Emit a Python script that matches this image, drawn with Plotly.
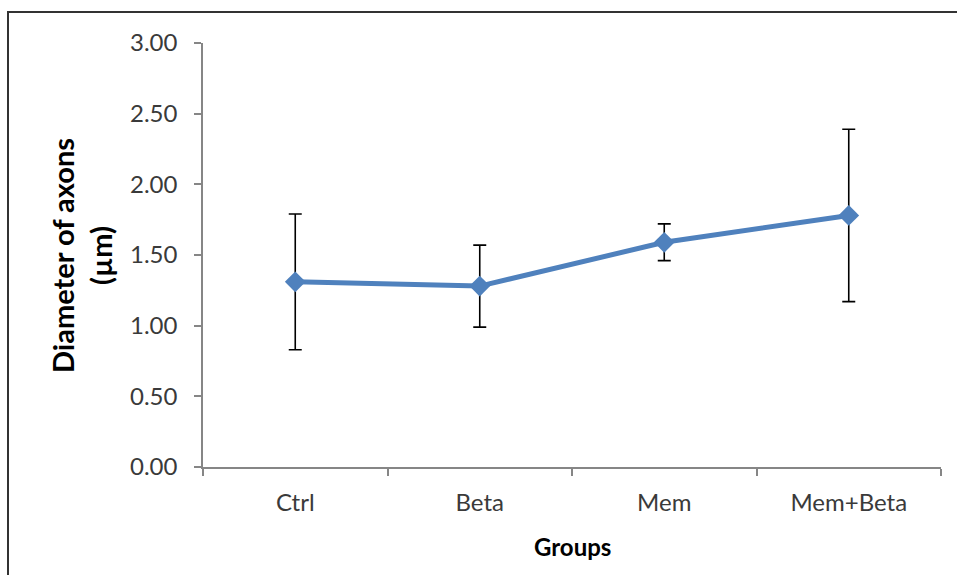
import plotly.graph_objects as go

# Mean axon diameter per group with standard deviation
groups = ["Ctrl", "Beta", "Mem", "Mem+Beta"]
mean_diameter = [1.31, 1.28, 1.59, 1.78]
sd_diameter = [0.48, 0.29, 0.13, 0.61]
y_ticks = [0.0, 0.5, 1.0, 1.5, 2.0, 2.5, 3.0]
y_tick_text = [f"{v:.2f}" for v in y_ticks]

FONT = "Lato"
BLUE = "#4F81BD"
AXIS_GREY = "#868686"
TEXT = "#3a3a3a"

fig = go.Figure()
fig.add_trace(go.Scatter(
    x=groups,
    y=mean_diameter,
    mode="lines+markers",
    line=dict(color=BLUE, width=5),
    marker=dict(symbol="diamond", size=16, color=BLUE),
    error_y=dict(type="data", array=sd_diameter, visible=True,
                 color="#000000", thickness=1.6, width=6.5),
    showlegend=False,
))

L, R, T, B = 203, 16, 43, 108
W, H = 957, 575
pw, ph = W - L - R, H - T - B

fig.update_layout(
    width=W, height=H,
    margin=dict(l=L, r=R, t=T, b=B, pad=0),
    paper_bgcolor="white", plot_bgcolor="white",
    font=dict(family=FONT, color=TEXT, size=24),
    xaxis=dict(
        type="category", range=[-0.5, 3.5],
        showline=True, linecolor=AXIS_GREY, linewidth=1.5,
        ticks="outside", tickson="boundaries", ticklen=7,
        tickcolor=AXIS_GREY, tickwidth=1.5,
        showgrid=False, zeroline=False,
        tickfont=dict(family=FONT, size=24, color=TEXT),
        ticklabelstandoff=13,
    ),
    yaxis=dict(
        range=[0, 3.0], tickvals=y_ticks, ticktext=y_tick_text,
        showline=True, linecolor=AXIS_GREY, linewidth=1.5,
        ticks="outside", ticklen=7, tickcolor=AXIS_GREY, tickwidth=1.5,
        showgrid=False, zeroline=False,
        tickfont=dict(family=FONT, size=24, color=TEXT),
        ticklabelstandoff=12,
    ),
    shapes=[
        # outer chart frame (left and top edges)
        dict(type="path", xref="paper", yref="paper",
             path=f"M {(8 - L) / pw} {-(B + 10) / ph} "
                  f"L {(8 - L) / pw} {1 + (T - 12) / ph} "
                  f"L {1 + (R + 10) / pw} {1 + (T - 12) / ph}",
             line=dict(color="#333333", width=2)),
    ],
    annotations=[
        dict(text="<b>Diameter of axons<br>(µm)</b>", xref="paper", yref="paper",
             x=(81 - L) / pw, y=0.5, textangle=-90, showarrow=False,
             font=dict(family=FONT, size=29, color="#000000"),
             xanchor="center", yanchor="middle"),
        dict(text="<b>Groups</b>", xref="paper", yref="paper",
             x=0.5, y=-(546 - (T + ph)) / ph, showarrow=False,
             font=dict(family=FONT, size=24, color="#000000"),
             xanchor="center", yanchor="middle"),
    ],
)

fig.write_html("out.html")
